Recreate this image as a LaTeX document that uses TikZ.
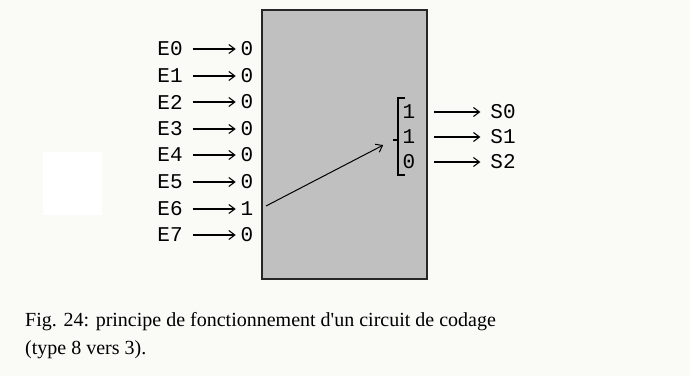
\documentclass[tikz,border=0pt]{standalone}
\usepackage{fontspec}
\setmainfont{Liberation Serif}
\setmonofont{Liberation Mono}
\usetikzlibrary{arrows.meta, positioning}
\definecolor{paper}{RGB}{250,250,246}
\definecolor{boxgray}{RGB}{192,192,192}

\begin{document}
\begin{tikzpicture}[x=1pt, y=-1pt]
\tikzstyle{lbl} = [font=\ttfamily\fontsize{21}{21}\selectfont, inner sep=0pt, outer sep=5pt]
\tikzstyle{arrow} = [line width=1.1pt, -{Straight Barb[length=6pt,width=9pt]}]
\tikzstyle{encoder} = [rectangle, draw=black!85, line width=1.5pt, fill=boxgray, minimum width=165pt, minimum height=269pt, inner sep=0pt]

% paper
\fill[paper] (0,0) rectangle (690,376);
\fill[white] (43,152) rectangle (102,215);
\useasboundingbox (0,0) rectangle (690,376);

% encoder block
\node (box) [encoder] at (344.5,144.5) {};

% inputs
\node (e0) [lbl] at (170,49) {E0};
\node (e1) [lbl] at (170,76) {E1};
\node (e2) [lbl] at (170,102) {E2};
\node (e3) [lbl] at (170,129) {E3};
\node (e4) [lbl] at (170,155) {E4};
\node (e5) [lbl] at (170,182) {E5};
\node (e6) [lbl] at (170,209) {E6};
\node (e7) [lbl] at (170,235) {E7};

\node (d0) [lbl] at (247,49) {0};
\node (d1) [lbl] at (247,76) {0};
\node (d2) [lbl] at (247,102) {0};
\node (d3) [lbl] at (247,129) {0};
\node (d4) [lbl] at (247,155) {0};
\node (d5) [lbl] at (247,182) {0};
\node (d6) [lbl] at (247,209) {1};
\node (d7) [lbl] at (247,235) {0};

\draw [arrow, shorten <=5pt] (e0) -- (d0);
\draw [arrow, shorten <=5pt] (e1) -- (d1);
\draw [arrow, shorten <=5pt] (e2) -- (d2);
\draw [arrow, shorten <=5pt] (e3) -- (d3);
\draw [arrow, shorten <=5pt] (e4) -- (d4);
\draw [arrow, shorten <=5pt] (e5) -- (d5);
\draw [arrow, shorten <=5pt] (e6) -- (d6);
\draw [arrow, shorten <=5pt] (e7) -- (d7);

% outputs
\node (o0) [lbl] at (409,112) {1};
\node (o1) [lbl] at (409,137) {1};
\node (o2) [lbl] at (409,162) {0};
\coordinate (brace) at (393,140);
\draw [line width=1.1pt] (405,98) -- (398,98) -- (398,175) -- (405,175);
\draw [line width=1.1pt] (398,140) -- (brace);

\coordinate (hot) at (266,206);
\draw [line width=1pt, -{Straight Barb[length=6pt,width=9pt]}, shorten >=11pt] (hot) -- (brace);

\node (s0) [lbl] at (503,112) {S0};
\node (s1) [lbl] at (503,137) {S1};
\node (s2) [lbl] at (503,162) {S2};

\draw [arrow, shorten <=14pt, shorten >=5pt] (o0) -- (s0);
\draw [arrow, shorten <=14pt, shorten >=5pt] (o1) -- (s1);
\draw [arrow, shorten <=14pt, shorten >=5pt] (o2) -- (s2);

% caption
\node (caption) [anchor=north west, align=left, inner sep=0pt, font=\fontsize{20}{28}\selectfont] at (25,312)
  {Fig. 24: principe de fonctionnement d\textquotesingle un circuit de codage\\(type 8 vers 3).};
\end{tikzpicture}
\end{document}
